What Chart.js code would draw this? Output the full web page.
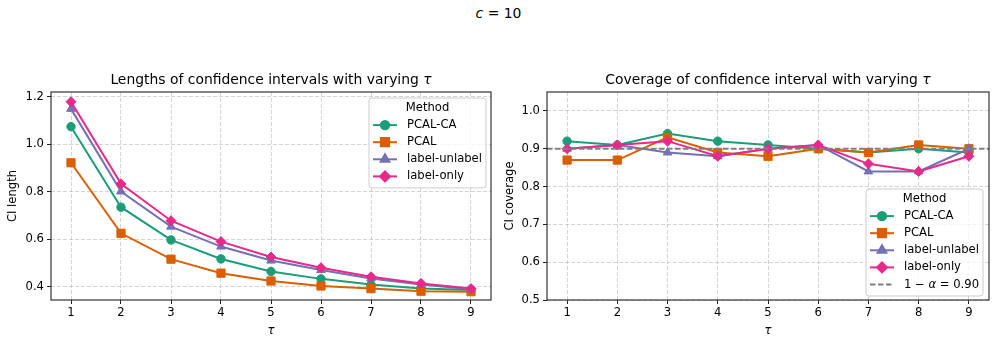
<!DOCTYPE html>
<html>
<head>
<meta charset="utf-8">
<script src="https://cdn.jsdelivr.net/npm/chart.js@4"></script>
<style>
  html, body { margin: 0; padding: 0; background: #fff; }
  body { width: 997px; height: 345px; position: relative; overflow: hidden; font-family: 'DejaVu Sans', sans-serif; }
  #suptitle { position: absolute; top: 5px; left: 0; width: 997px; text-align: center; font-size: 13.9px; color: #000; }
  .box { position: absolute; top: 0; width: 500px; height: 345px; }
</style>
</head>
<body>
<div id="suptitle"><i>c</i> = 10</div>
<div class="box" style="left:0"><canvas id="lengths"></canvas></div>
<div class="box" style="left:497px"><canvas id="coverage"></canvas></div>
<script>
const tau = [1, 2, 3, 4, 5, 6, 7, 8, 9];
const methods = ['PCAL-CA', 'PCAL', 'label-unlabel', 'label-only'];

// CI lengths
const lenPcalCa = [1.075, 0.736, 0.598, 0.518, 0.465, 0.434, 0.410, 0.393, 0.387];
const lenPcal = [0.923, 0.626, 0.517, 0.458, 0.425, 0.404, 0.393, 0.382, 0.380];
const lenLabelUnlabel = [1.15, 0.802, 0.654, 0.570, 0.511, 0.471, 0.436, 0.410, 0.390];
const lenLabelOnly = [1.18, 0.834, 0.679, 0.591, 0.526, 0.481, 0.443, 0.415, 0.393];

// CI coverage
const covPcalCa = [0.92, 0.91, 0.94, 0.92, 0.91, 0.90, 0.89, 0.90, 0.89];
const covPcal = [0.87, 0.87, 0.93, 0.89, 0.88, 0.90, 0.89, 0.91, 0.90];
const covLabelUnlabel = [0.90, 0.91, 0.89, 0.88, 0.90, 0.91, 0.84, 0.84, 0.90];
const covLabelOnly = [0.90, 0.91, 0.92, 0.88, 0.90, 0.91, 0.86, 0.84, 0.88];
const target = 0.90;

const lenTicks = [0.4, 0.6, 0.8, 1.0, 1.2];
const covTicks = [0.5, 0.6, 0.7, 0.8, 0.9, 1.0];

const colors = ['#1b9e77', '#d95f02', '#7570b3', '#e7298a'];
const markers = ['circle', 'rect', 'triangle', 'rectRot'];
const markerSize = [4.2, 5.8, 5, 5];
const FONT = "'DejaVu Sans', sans-serif";

function pts(vals) {
  return vals.map((v, i) => ({ x: tau[i], y: v }));
}

function methodSets(series) {
  return series.map((vals, i) => ({
    label: methods[i],
    data: pts(vals),
    borderColor: colors[i],
    backgroundColor: colors[i],
    borderWidth: 2,
    pointStyle: markers[i],
    pointRadius: markerSize[i],
    pointHoverRadius: markerSize[i],
    pointBorderWidth: 1,
    order: 4 - i
  }));
}

function drawMarker(ctx, i, x, y) {
  Chart.helpers.drawPoint(ctx, { pointStyle: markers[i], radius: markerSize[i], borderWidth: 1 }, x, y);
}

// draws text pieces one after another, pieces = [[text, fontStyle], ...]
function mixedText(ctx, pieces, size, x, y, align) {
  let total = 0;
  pieces.forEach(([t, st]) => { ctx.font = st + size + 'px ' + FONT; total += ctx.measureText(t).width; });
  let cx = align === 'center' ? x - total / 2 : x;
  ctx.textAlign = 'left';
  pieces.forEach(([t, st]) => {
    ctx.font = st + size + 'px ' + FONT;
    ctx.fillText(t, cx, y);
    cx += ctx.measureText(t).width;
  });
}

const frame = {
  id: 'frame',
  afterDatasetsDraw(chart, args, opts) {
    const ctx = chart.ctx, a = chart.chartArea;
    ctx.save();
    ctx.strokeStyle = '#222';
    ctx.lineWidth = 1.1;
    ctx.strokeRect(a.left, a.top, a.right - a.left, a.bottom - a.top);

    // axes title with italic tau
    ctx.fillStyle = '#000';
    ctx.textBaseline = 'middle';
    mixedText(ctx, [[opts.title + ' ', ''], ['\u03c4', 'italic ']], 13.9, (a.left + a.right) / 2, 80.5, 'center');

    // legend box
    const rows = methods.length + 1 + (opts.threshold ? 1 : 0);
    const rowH = 17.1;
    const w = 117;
    const h = 10 + (rows - 1) * rowH + 11.5;
    const x0 = a.right - opts.dx - w;
    const y0 = opts.anchor === 'top' ? a.top + opts.dy : a.bottom - opts.dy - h;
    ctx.beginPath();
    ctx.roundRect(x0, y0, w, h, 3);
    ctx.fillStyle = 'rgba(255,255,255,0.8)';
    ctx.fill();
    ctx.strokeStyle = '#cccccc';
    ctx.lineWidth = 1;
    ctx.stroke();

    ctx.font = '11.6px ' + FONT;
    ctx.fillStyle = '#000';
    ctx.textAlign = 'center';
    ctx.fillText('Method', x0 + w / 2, y0 + 10);
    ctx.textAlign = 'left';
    methods.forEach((m, i) => {
      const y = y0 + 10 + (i + 1) * rowH;
      ctx.strokeStyle = colors[i];
      ctx.fillStyle = colors[i];
      ctx.lineWidth = 2;
      ctx.beginPath();
      ctx.moveTo(x0 + 4, y);
      ctx.lineTo(x0 + 28, y);
      ctx.stroke();
      drawMarker(ctx, i, x0 + 16, y);
      ctx.fillStyle = '#000';
      ctx.font = '11.6px ' + FONT;
      ctx.fillText(m, x0 + 38, y);
    });
    if (opts.threshold) {
      const y = y0 + 10 + (methods.length + 1) * rowH;
      ctx.strokeStyle = '#808080';
      ctx.lineWidth = 2;
      ctx.setLineDash([5.5, 2.5]);
      ctx.beginPath();
      ctx.moveTo(x0 + 4, y);
      ctx.lineTo(x0 + 28, y);
      ctx.stroke();
      ctx.setLineDash([]);
      ctx.fillStyle = '#000';
      mixedText(ctx, [['1 \u2212 ', ''], ['\u03b1', 'italic '], [' = 0.90', '']], 11.6, x0 + 38, y, 'left');
    }
    ctx.restore();
  }
};

function axes(yMin, yMax, yTicks, yTitle, yWidth) {
  const tickFont = { family: FONT, size: 11.6 };
  const grid = { color: 'rgba(176,176,176,0.55)', tickColor: '#222', tickLength: 4, lineWidth: 1 };
  return {
    x: {
      type: 'linear',
      min: 0.6,
      max: 9.4,
      afterBuildTicks: s => { s.ticks = tau.map(v => ({ value: v })); },
      afterFit: s => { s.height = 45; },
      ticks: { color: '#000', font: tickFont, padding: 2, maxRotation: 0 },
      grid: grid,
      border: { display: false, dash: [4, 2] },
      title: { display: true, text: '\u03c4', color: '#000', font: { family: FONT, size: 11.6, style: 'italic' }, padding: { top: 0, bottom: 7 } }
    },
    y: {
      min: yMin,
      max: yMax,
      afterBuildTicks: s => { s.ticks = yTicks.map(v => ({ value: v })); },
      afterFit: s => { s.width = yWidth; },
      ticks: { color: '#000', font: tickFont, padding: 3, callback: v => v.toFixed(1) },
      grid: grid,
      border: { display: false, dash: [4, 2] },
      title: { display: true, text: yTitle, color: '#000', font: { family: FONT, size: 11.6 }, padding: { top: 6, bottom: 4 } }
    }
  };
}

function makeChart(id, datasets, scales, legendOpts, padRight) {
  const el = document.getElementById(id);
  el.width = 500;
  el.height = 345;
  return new Chart(el, {
    type: 'line',
    data: { datasets: datasets },
    options: {
      responsive: false,
      animation: false,
      devicePixelRatio: 1,
      layout: { padding: { top: 92, right: padRight, bottom: 0, left: 0 } },
      scales: scales,
      plugins: {
        legend: { display: false },
        tooltip: { enabled: false },
        frame: legendOpts
      }
    },
    plugins: [frame]
  });
}

makeChart('lengths',
  methodSets([lenPcalCa, lenPcal, lenLabelUnlabel, lenLabelOnly]),
  axes(0.345, 1.221, lenTicks, 'CI length', 51),
  { title: 'Lengths of confidence intervals with varying', anchor: 'top', dx: 5, dy: 6, threshold: false },
  9);

const covSets = methodSets([covPcalCa, covPcal, covLabelUnlabel, covLabelOnly]);
covSets.push({
  label: '1 \u2212 \u03b1 = 0.90',
  data: [{ x: 0.6, y: target }, { x: 9.4, y: target }],
  borderColor: '#808080',
  borderWidth: 2,
  borderDash: [5.5, 2.5],
  pointRadius: 0,
  pointHoverRadius: 0,
  order: 0
});

makeChart('coverage',
  covSets,
  axes(0.5, 1.05, covTicks, 'CI coverage', 50),
  { title: 'Coverage of confidence interval with varying', anchor: 'bottom', dx: 6, dy: 4, threshold: true },
  8);
</script>
</body>
</html>
